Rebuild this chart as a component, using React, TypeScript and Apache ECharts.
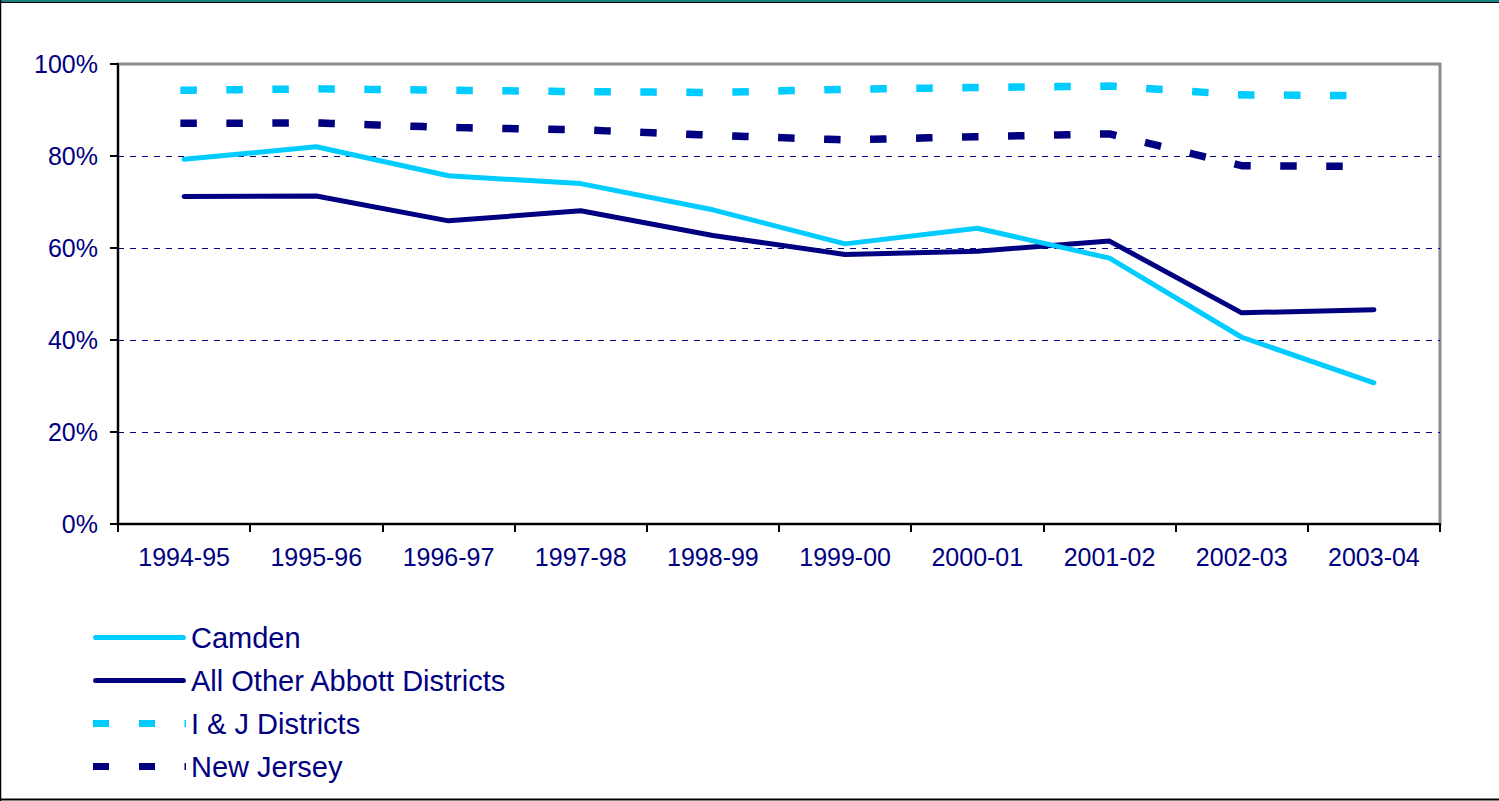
import React, { useEffect, useRef } from "react";
import * as echarts from "echarts";

const categories = ["1994-95", "1995-96", "1996-97", "1997-98", "1998-99", "1999-00", "2000-01", "2001-02", "2002-03", "2003-04"];
const camden = [79.3, 82.0, 75.7, 74.0, 68.3, 60.9, 64.3, 57.8, 40.6, 30.7];
const allOtherAbbott = [71.2, 71.3, 65.9, 68.1, 62.7, 58.6, 59.3, 61.5, 45.9, 46.6];
const iAndJ = [94.3, 94.6, 94.3, 94.0, 93.8, 94.5, 94.9, 95.2, 93.3, 93.1];
const newJersey = [87.1, 87.2, 86.2, 85.7, 84.5, 83.5, 84.2, 84.8, 77.9, 77.7];
const yTicks = [0, 20, 40, 60, 80, 100];

const NAVY = "#000080";
const CYAN = "#00CCFF";
const FONT = "'Liberation Sans', Arial, Helvetica, sans-serif";

// legend icons: invisible moveTo points fix the icon box to 93 x 8
const SOLID_ICON = "path://M0,0 M93,8 M2,1.5 L91,1.5 A2.5,2.5 0 0 1 91,6.5 L2,6.5 A2.5,2.5 0 0 1 2,1.5 Z";
const DASH_ICON =
  "path://M0,0 M93,8 M0,0.5 L16,0.5 L16,7.5 L0,7.5 Z M46,0.5 L62,0.5 L62,7.5 L46,7.5 Z M91.5,0.5 L93,0.5 L93,7.5 L91.5,7.5 Z";

export default function App() {
  const ref = useRef<HTMLDivElement>(null);
  useEffect(() => {
    document.body.style.margin = "0";
    const chart = echarts.init(ref.current!, null, { renderer: "svg" });
    const solid = (w: number) => ({ width: w, type: "solid" as const, cap: "round" as const, join: "round" as const });
    const dashed = (w: number) => ({ width: w, type: [9, 37], cap: "square" as const });
    chart.setOption({
      animation: false,
      backgroundColor: "#ffffff",
      textStyle: { fontFamily: FONT },
      grid: {
        left: 118,
        right: 59,
        top: 64,
        bottom: 277,
        show: true,
        borderColor: "#8c8c8c",
        borderWidth: 3,
        backgroundColor: "transparent",
      },
      legend: {
        orient: "vertical",
        left: 93,
        top: 623,
        padding: 0,
        itemWidth: 93,
        itemHeight: 8,
        itemGap: 14,
        symbolKeepAspect: false,
        textStyle: { fontSize: 29, color: NAVY, fontFamily: FONT },
        data: [
          { name: "Camden", icon: SOLID_ICON, itemStyle: { color: CYAN, borderWidth: 0 } },
          { name: "All Other Abbott Districts", icon: SOLID_ICON, itemStyle: { color: NAVY, borderWidth: 0 } },
          { name: "I & J Districts", icon: DASH_ICON, itemStyle: { color: CYAN, borderWidth: 0 } },
          { name: "New Jersey", icon: DASH_ICON, itemStyle: { color: NAVY, borderWidth: 0 } },
        ],
      },
      xAxis: {
        type: "category",
        data: categories,
        boundaryGap: true,
        axisLine: { lineStyle: { color: "#000000", width: 2 } },
        axisTick: { show: true, length: 8, interval: 0, lineStyle: { color: "#000000", width: 2 } },
        axisLabel: { color: NAVY, fontSize: 25, margin: 20, fontFamily: FONT, interval: 0 },
        splitLine: { show: false },
      },
      yAxis: {
        type: "value",
        min: yTicks[0],
        max: yTicks[yTicks.length - 1],
        interval: 20,
        axisLine: { show: true, lineStyle: { color: "#000000", width: 2 } },
        axisTick: { show: true, length: 8, lineStyle: { color: "#000000", width: 2 } },
        axisLabel: { color: NAVY, fontSize: 25, margin: 20, fontFamily: FONT, formatter: "{value}%" },
        splitLine: {
          show: true,
          showMinLine: false,
          showMaxLine: false,
          lineStyle: { color: NAVY, width: 1, type: [6, 6] },
        },
      },
      series: [
        { name: "Camden", type: "line", data: camden, symbol: "none", color: CYAN, lineStyle: { color: CYAN, ...solid(5) }, z: 4 },
        { name: "All Other Abbott Districts", type: "line", data: allOtherAbbott, symbol: "none", color: NAVY, lineStyle: { color: NAVY, ...solid(5) }, z: 3 },
        { name: "I & J Districts", type: "line", data: iAndJ, symbol: "none", color: CYAN, lineStyle: { color: CYAN, ...dashed(7.5) }, z: 2 },
        { name: "New Jersey", type: "line", data: newJersey, symbol: "none", color: NAVY, lineStyle: { color: NAVY, ...dashed(7.5) }, z: 2 },
      ],
      graphic: [
        { type: "rect", shape: { x: 0, y: 0, width: 1499, height: 2 }, style: { fill: "#1b8080" }, silent: true },
        { type: "line", shape: { x1: 0, y1: 2.5, x2: 1499, y2: 2.5 }, style: { stroke: "#000000", lineWidth: 1 }, silent: true },
        { type: "line", shape: { x1: 0.5, y1: 0, x2: 0.5, y2: 801 }, style: { stroke: "#000000", lineWidth: 1.5 }, silent: true },
        { type: "line", shape: { x1: 0, y1: 799.5, x2: 1499, y2: 799.5 }, style: { stroke: "#000000", lineWidth: 2 }, silent: true },
      ],
    });
    return () => chart.dispose();
  }, []);
  return <div ref={ref} style={{ position: "fixed", left: 0, top: 0, width: 1499, height: 801 }} />;
}
